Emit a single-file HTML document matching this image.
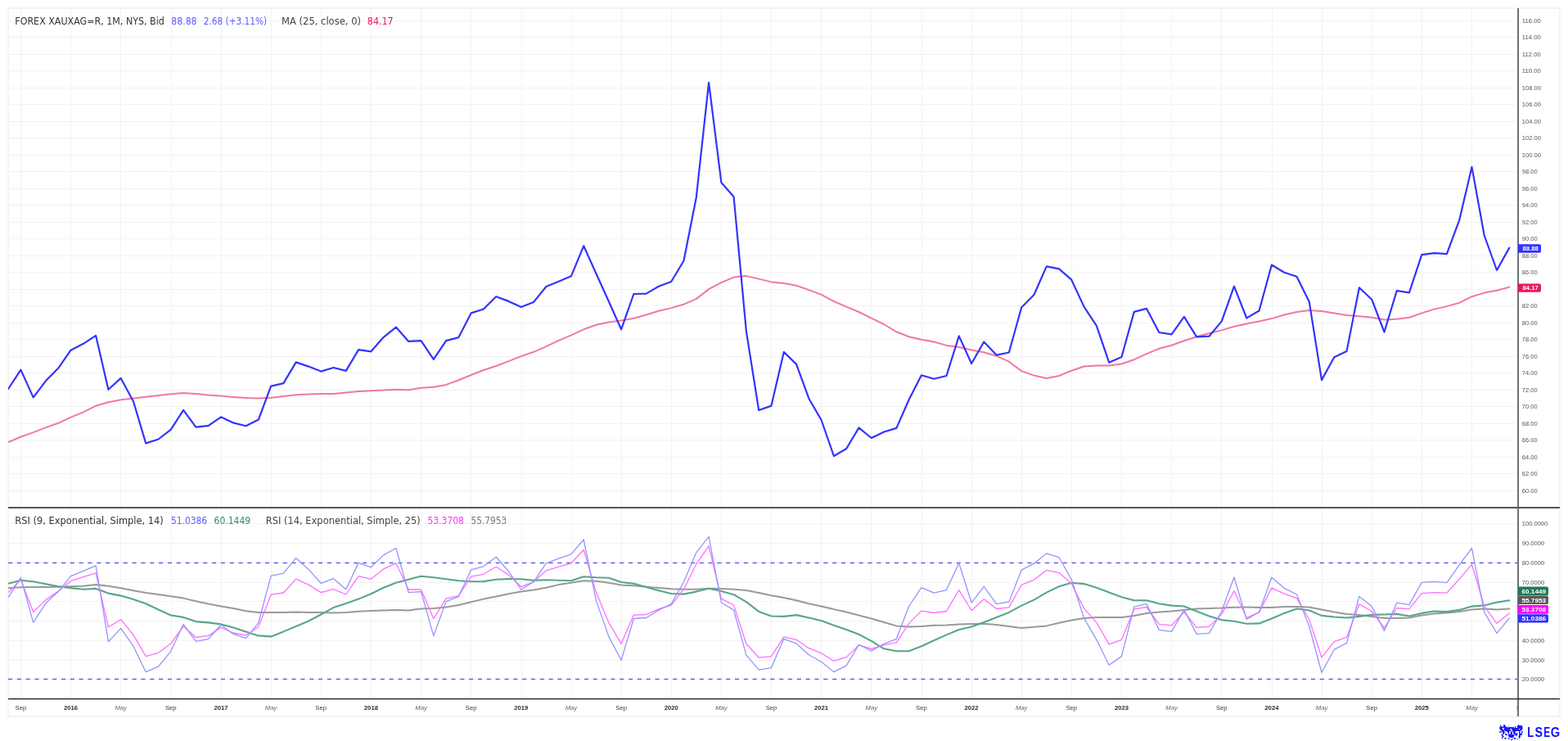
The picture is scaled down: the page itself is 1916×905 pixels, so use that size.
<!DOCTYPE html><html><head><meta charset="utf-8"><title>FOREX XAUXAG=R chart</title><style>html,body{margin:0;padding:0;background:#fff;}body{width:1916px;height:905px;overflow:hidden;}svg{display:block}</style></head><body><svg width="1916" height="905" viewBox="0 0 1916 905"><rect width="1916" height="905" fill="#fff"/><rect x="10" y="10" width="1896" height="865" fill="none" stroke="#f4f4f4" stroke-width="2"/><path d="M25.5 11V853 M86.5 11V853 M147.5 11V853 M209.5 11V853 M270.5 11V853 M331.5 11V853 M392.5 11V853 M453.5 11V853 M514.5 11V853 M575.5 11V853 M637.5 11V853 M698.5 11V853 M759.5 11V853 M820.5 11V853 M881.5 11V853 M942.5 11V853 M1003.5 11V853 M1064.5 11V853 M1126.5 11V853 M1187.5 11V853 M1248.5 11V853 M1309.5 11V853 M1370.5 11V853 M1431.5 11V853 M1492.5 11V853 M1554.5 11V853 M1615.5 11V853 M1676.5 11V853 M1737.5 11V853 M1798.5 11V853 M11 25.5H1854 M11 45.5H1854 M11 66.5H1854 M11 86.5H1854 M11 107.5H1854 M11 127.5H1854 M11 148.5H1854 M11 168.5H1854 M11 189.5H1854 M11 209.5H1854 M11 230.5H1854 M11 250.5H1854 M11 271.5H1854 M11 291.5H1854 M11 312.5H1854 M11 332.5H1854 M11 353.5H1854 M11 373.5H1854 M11 394.5H1854 M11 414.5H1854 M11 435.5H1854 M11 455.5H1854 M11 476.5H1854 M11 496.5H1854 M11 517.5H1854 M11 537.5H1854 M11 558.5H1854 M11 578.5H1854 M11 599.5H1854 M11 639.5H1854 M11 663.5H1854 M11 687.5H1854 M11 711.5H1854 M11 734.5H1854 M11 758.5H1854 M11 782.5H1854 M11 806.5H1854 M11 829.5H1854" stroke="#f2f2f2" stroke-width="1" fill="none" shape-rendering="crispEdges"/><line x1="10" y1="687.5" x2="1854" y2="687.5" stroke="#5c5cff" stroke-width="1.5" stroke-dasharray="5 5.83"/><line x1="10" y1="829.6" x2="1854" y2="829.6" stroke="#5c5cff" stroke-width="1.5" stroke-dasharray="5 5.83"/><defs><clipPath id="cm"><rect x="10" y="10" width="1844.5" height="609"/></clipPath><clipPath id="cr"><rect x="10" y="621" width="1844.5" height="232"/></clipPath></defs><g clip-path="url(#cm)"><polyline points="10.1,540.0 25.4,533.5 40.7,528.1 56.0,522.1 71.3,516.8 86.5,509.6 101.8,503.3 117.1,495.7 132.4,491.3 147.7,488.3 163.0,486.4 178.2,484.8 193.5,483.0 208.8,481.3 224.1,479.9 239.4,481.0 254.7,482.6 270.0,483.6 285.2,484.9 300.5,486.1 315.8,486.6 331.1,485.8 346.4,484.0 361.7,482.2 377.0,481.5 392.2,481.1 407.5,481.1 422.8,479.5 438.1,477.9 453.4,477.2 468.7,476.4 483.9,475.8 499.2,476.2 514.5,473.8 529.8,472.8 545.1,469.9 560.4,464.2 575.7,458.0 590.9,452.0 606.2,447.0 621.5,441.1 636.8,435.1 652.1,429.8 667.4,423.2 682.7,415.8 697.9,409.3 713.2,402.3 728.5,396.8 743.8,393.4 759.1,391.5 774.4,388.8 789.6,384.5 804.9,379.7 820.2,376.1 835.5,371.7 850.8,365.1 866.1,353.1 881.4,345.1 896.6,338.6 911.9,337.1 927.2,340.6 942.5,344.4 957.8,346.0 973.1,348.7 988.4,354.1 1003.6,359.9 1018.9,368.0 1034.2,374.6 1049.5,381.0 1064.8,388.7 1080.1,396.0 1095.4,405.3 1110.6,411.3 1125.9,414.8 1141.2,417.5 1156.5,421.9 1171.8,424.1 1187.1,427.4 1202.3,430.3 1217.6,434.7 1232.9,441.7 1248.2,453.1 1263.5,458.6 1278.8,462.0 1294.1,459.0 1309.3,452.7 1324.6,447.5 1339.9,446.5 1355.2,446.5 1370.5,444.5 1385.8,439.2 1401.1,432.2 1416.3,425.8 1431.6,421.7 1446.9,416.3 1462.2,411.3 1477.5,407.0 1492.8,403.4 1508.0,398.8 1523.3,395.4 1538.6,392.4 1553.9,389.1 1569.2,384.5 1584.5,381.1 1599.8,378.9 1615.0,380.1 1630.3,382.4 1645.6,384.9 1660.9,386.2 1676.2,387.8 1691.5,390.4 1706.8,389.7 1722.0,387.8 1737.3,382.4 1752.6,377.6 1767.9,374.1 1783.2,369.9 1798.5,362.2 1813.7,357.6 1829.0,354.8 1844.3,350.6" fill="none" stroke="#f277a2" stroke-width="2" stroke-linejoin="round" stroke-linecap="round" opacity="1"/><polyline points="10.1,475.0 25.4,451.6 40.7,485.4 56.0,465.1 71.3,449.6 86.5,427.7 101.8,419.8 117.1,409.8 132.4,475.8 147.7,461.9 163.0,490.3 178.2,541.4 193.5,536.5 208.8,524.7 224.1,500.8 239.4,521.7 254.7,519.9 270.0,509.3 285.2,516.4 300.5,520.2 315.8,512.6 331.1,471.6 346.4,468.1 361.7,442.4 377.0,447.6 392.2,453.6 407.5,449.0 422.8,452.9 438.1,427.1 453.4,429.3 468.7,411.8 483.9,399.6 499.2,416.9 514.5,416.1 529.8,438.8 545.1,416.1 560.4,412.1 575.7,382.4 590.9,377.5 606.2,362.2 621.5,367.9 636.8,375.1 652.1,368.9 667.4,350.0 682.7,343.7 697.9,337.3 713.2,300.3 728.5,334.3 743.8,368.0 759.1,402.3 774.4,359.0 789.6,358.6 804.9,349.8 820.2,344.0 835.5,318.5 850.8,241.2 866.1,100.9 881.4,223.0 896.6,240.3 911.9,404.7 927.2,501.0 942.5,495.6 957.8,429.9 973.1,444.9 988.4,486.7 1003.6,513.0 1018.9,557.0 1034.2,548.0 1049.5,522.4 1064.8,535.0 1080.1,527.5 1095.4,522.9 1110.6,488.2 1125.9,458.3 1141.2,462.8 1156.5,459.0 1171.8,410.4 1187.1,444.0 1202.3,417.5 1217.6,433.6 1232.9,430.5 1248.2,375.5 1263.5,360.0 1278.8,325.4 1294.1,328.4 1309.3,341.7 1324.6,374.6 1339.9,397.8 1355.2,442.7 1370.5,436.0 1385.8,380.9 1401.1,376.9 1416.3,406.0 1431.6,408.3 1446.9,386.9 1462.2,411.3 1477.5,410.7 1492.8,392.4 1508.0,349.7 1523.3,388.5 1538.6,379.5 1553.9,323.5 1569.2,332.8 1584.5,337.8 1599.8,368.6 1615.0,464.1 1630.3,436.2 1645.6,428.9 1660.9,351.3 1676.2,365.7 1691.5,405.5 1706.8,355.1 1722.0,357.4 1737.3,311.2 1752.6,309.2 1767.9,310.2 1783.2,268.9 1798.5,203.9 1813.7,287.5 1829.0,330.0 1844.3,302.6" fill="none" stroke="#3333ff" stroke-width="2.2" stroke-linejoin="round" stroke-linecap="round" opacity="1"/></g><g clip-path="url(#cr)"><polyline points="10.1,718.3 25.4,717.3 40.7,717.1 56.0,716.9 71.3,716.7 86.5,716.3 101.8,715.7 117.1,714.1 132.4,715.7 147.7,718.3 163.0,721.3 178.2,724.0 193.5,726.0 208.8,728.2 224.1,730.6 239.4,734.2 254.7,737.6 270.0,740.5 285.2,743.1 300.5,746.2 315.8,748.1 331.1,748.1 346.4,747.9 361.7,747.5 377.0,747.9 392.2,748.1 407.5,748.5 422.8,747.9 438.1,746.7 453.4,746.1 468.7,745.5 483.9,744.9 499.2,745.5 514.5,743.5 529.8,743.1 545.1,741.5 560.4,739.0 575.7,735.2 590.9,731.6 606.2,728.6 621.5,725.2 636.8,722.6 652.1,720.6 667.4,717.7 682.7,714.1 697.9,711.7 713.2,709.3 728.5,709.7 743.8,711.7 759.1,714.5 774.4,715.3 789.6,716.7 804.9,718.1 820.2,719.3 835.5,719.7 850.8,719.7 866.1,718.7 881.4,719.1 896.6,719.7 911.9,721.0 927.2,724.0 942.5,727.2 957.8,730.0 973.1,733.2 988.4,737.2 1003.6,740.5 1018.9,744.1 1034.2,747.5 1049.5,751.5 1064.8,755.5 1080.1,760.0 1095.4,764.4 1110.6,765.4 1125.9,765.0 1141.2,763.8 1156.5,763.4 1171.8,762.4 1187.1,762.0 1202.3,761.8 1217.6,763.0 1232.9,765.0 1248.2,767.0 1263.5,765.8 1278.8,764.4 1294.1,760.8 1309.3,757.5 1324.6,755.1 1339.9,754.1 1355.2,754.1 1370.5,753.9 1385.8,751.9 1401.1,748.9 1416.3,747.5 1431.6,746.5 1446.9,744.9 1462.2,743.5 1477.5,742.9 1492.8,742.5 1508.0,741.7 1523.3,741.5 1538.6,741.9 1553.9,741.9 1569.2,741.1 1584.5,740.9 1599.8,741.5 1615.0,744.5 1630.3,747.5 1645.6,750.1 1660.9,751.1 1676.2,753.1 1691.5,755.1 1706.8,755.1 1722.0,754.5 1737.3,751.5 1752.6,749.5 1767.9,748.5 1783.2,747.1 1798.5,744.5 1813.7,743.6 1829.0,744.4 1844.3,743.6" fill="none" stroke="#999999" stroke-width="2.0" stroke-linejoin="round" stroke-linecap="round" opacity="1"/><polyline points="10.1,712.7 25.4,708.7 40.7,710.3 56.0,713.3 71.3,716.3 86.5,718.1 101.8,719.7 117.1,718.9 132.4,724.6 147.7,727.6 163.0,732.0 178.2,737.2 193.5,744.5 208.8,751.5 224.1,753.9 239.4,759.1 254.7,760.4 270.0,762.4 285.2,766.4 300.5,771.5 315.8,776.4 331.1,777.4 346.4,771.4 361.7,765.0 377.0,758.5 392.2,750.5 407.5,742.1 422.8,737.0 438.1,731.6 453.4,725.2 468.7,717.7 483.9,711.7 499.2,707.7 514.5,703.7 529.8,705.3 545.1,707.3 560.4,709.3 575.7,710.3 590.9,710.1 606.2,707.7 621.5,707.1 636.8,707.3 652.1,708.9 667.4,708.3 682.7,708.7 697.9,709.3 713.2,704.3 728.5,705.3 743.8,705.7 759.1,711.0 774.4,712.7 789.6,717.1 804.9,721.2 820.2,725.0 835.5,725.6 850.8,722.6 866.1,718.7 881.4,722.0 896.6,726.2 911.9,735.2 927.2,746.9 942.5,752.5 957.8,752.9 973.1,751.1 988.4,754.5 1003.6,758.1 1018.9,763.8 1034.2,769.0 1049.5,774.8 1064.8,782.9 1080.1,792.3 1095.4,795.3 1110.6,795.3 1125.9,789.3 1141.2,782.3 1156.5,775.4 1171.8,769.0 1187.1,765.4 1202.3,760.0 1217.6,753.9 1232.9,747.9 1248.2,739.6 1263.5,732.6 1278.8,723.6 1294.1,716.3 1309.3,711.7 1324.6,713.1 1339.9,717.7 1355.2,723.6 1370.5,729.2 1385.8,733.2 1401.1,733.2 1416.3,737.2 1431.6,739.6 1446.9,740.5 1462.2,746.5 1477.5,752.5 1492.8,757.1 1508.0,758.7 1523.3,761.8 1538.6,761.4 1553.9,755.5 1569.2,748.9 1584.5,743.5 1599.8,745.5 1615.0,751.9 1630.3,753.5 1645.6,754.5 1660.9,752.9 1676.2,750.9 1691.5,750.5 1706.8,749.9 1722.0,752.5 1737.3,748.9 1752.6,746.5 1767.9,747.1 1783.2,744.9 1798.5,740.6 1813.7,739.4 1829.0,735.6 1844.3,733.2" fill="none" stroke="#58a58c" stroke-width="2.1" stroke-linejoin="round" stroke-linecap="round" opacity="1"/><polyline points="10.1,723.6 25.4,707.7 40.7,747.5 56.0,732.6 71.3,722.0 86.5,709.7 101.8,704.7 117.1,699.8 132.4,766.0 147.7,756.5 163.0,775.4 178.2,801.6 193.5,797.3 208.8,785.9 224.1,765.0 239.4,778.4 254.7,776.4 270.0,766.4 285.2,773.0 300.5,775.8 315.8,765.8 331.1,726.2 346.4,724.0 361.7,707.1 377.0,714.1 392.2,723.6 407.5,719.7 422.8,726.0 438.1,703.7 453.4,707.3 468.7,694.8 483.9,687.8 499.2,720.0 514.5,720.0 529.8,755.5 545.1,731.2 560.4,727.6 575.7,704.1 590.9,701.3 606.2,692.2 621.5,702.1 636.8,716.7 652.1,710.7 667.4,696.8 682.7,692.2 697.9,687.8 713.2,671.5 728.5,723.6 743.8,760.4 759.1,786.1 774.4,751.1 789.6,750.5 804.9,743.9 820.2,739.2 835.5,719.7 850.8,688.8 866.1,666.9 881.4,731.2 896.6,739.0 911.9,786.3 927.2,803.2 942.5,801.6 957.8,777.8 973.1,781.3 988.4,791.7 1003.6,797.7 1018.9,807.2 1034.2,802.6 1049.5,787.9 1064.8,792.3 1080.1,787.9 1095.4,784.7 1110.6,761.4 1125.9,746.1 1141.2,748.5 1156.5,746.5 1171.8,720.6 1187.1,745.5 1202.3,731.8 1217.6,743.5 1232.9,741.9 1248.2,714.3 1263.5,708.1 1278.8,696.4 1294.1,699.4 1309.3,712.7 1324.6,743.1 1339.9,760.4 1355.2,786.9 1370.5,781.3 1385.8,743.9 1401.1,741.5 1416.3,762.4 1431.6,763.8 1446.9,747.5 1462.2,766.4 1477.5,765.4 1492.8,750.1 1508.0,721.6 1523.3,754.5 1538.6,747.9 1553.9,718.1 1569.2,725.2 1584.5,730.6 1599.8,756.5 1615.0,802.8 1630.3,783.7 1645.6,778.4 1660.9,737.8 1676.2,746.5 1691.5,767.0 1706.8,742.5 1722.0,743.9 1737.3,724.6 1752.6,723.6 1767.9,724.2 1783.2,707.3 1798.5,689.2 1813.7,740.3 1829.0,761.3 1844.3,749.1" fill="none" stroke="#ff6eff" stroke-width="1.3" stroke-linejoin="round" stroke-linecap="round" opacity="1"/><polyline points="10.1,729.6 25.4,705.3 40.7,760.4 56.0,736.6 71.3,722.6 86.5,703.7 101.8,697.4 117.1,690.8 132.4,783.7 147.7,767.4 163.0,789.3 178.2,820.7 193.5,814.2 208.8,795.3 224.1,762.4 239.4,783.3 254.7,780.3 270.0,763.0 285.2,774.4 300.5,779.4 315.8,761.0 331.1,703.3 346.4,700.1 361.7,681.4 377.0,695.4 392.2,712.3 407.5,706.7 422.8,719.7 438.1,687.4 453.4,692.8 468.7,677.9 483.9,669.5 499.2,723.6 514.5,722.6 529.8,776.4 545.1,734.6 560.4,728.6 575.7,695.8 590.9,691.8 606.2,680.2 621.5,697.8 636.8,720.0 652.1,710.7 667.4,687.8 682.7,682.2 697.9,676.9 713.2,659.0 728.5,733.6 743.8,777.4 759.1,806.2 774.4,755.5 789.6,754.5 804.9,745.1 820.2,737.6 835.5,710.7 850.8,674.9 866.1,655.4 881.4,736.0 896.6,745.1 911.9,800.2 927.2,818.2 942.5,815.6 957.8,780.3 973.1,785.9 988.4,799.7 1003.6,808.2 1018.9,820.7 1034.2,812.8 1049.5,787.3 1064.8,794.9 1080.1,786.3 1095.4,780.3 1110.6,740.5 1125.9,717.7 1141.2,724.2 1156.5,720.6 1171.8,687.8 1187.1,736.2 1202.3,716.3 1217.6,737.6 1232.9,735.2 1248.2,696.2 1263.5,688.2 1278.8,675.9 1294.1,680.8 1309.3,707.7 1324.6,754.9 1339.9,781.3 1355.2,812.2 1370.5,801.6 1385.8,741.1 1401.1,737.6 1416.3,769.4 1431.6,771.4 1446.9,744.9 1462.2,774.4 1477.5,773.4 1492.8,746.5 1508.0,705.0 1523.3,756.5 1538.6,747.5 1553.9,705.3 1569.2,718.3 1584.5,726.0 1599.8,765.0 1615.0,821.5 1630.3,793.3 1645.6,785.3 1660.9,728.4 1676.2,740.5 1691.5,770.4 1706.8,736.2 1722.0,738.6 1737.3,711.3 1752.6,710.3 1767.9,711.7 1783.2,689.8 1798.5,669.5 1813.7,747.7 1829.0,773.4 1844.3,755.2" fill="none" stroke="#9494ff" stroke-width="1.3" stroke-linejoin="round" stroke-linecap="round" opacity="1"/></g><rect x="10" y="619" width="1896" height="2" fill="#555"/><rect x="1854.2" y="10" width="1.7" height="865" fill="#5a5a5a"/><rect x="10" y="852.9" width="1896" height="1.4" fill="#222"/><g font-family="'Liberation Sans',sans-serif" font-size="8.1" fill="#555"><text x="1859.8" y="28.0" textLength="23.1" lengthAdjust="spacingAndGlyphs">116.00</text><text x="1859.8" y="48.0" textLength="23.1" lengthAdjust="spacingAndGlyphs">114.00</text><text x="1859.8" y="69.0" textLength="23.1" lengthAdjust="spacingAndGlyphs">112.00</text><text x="1859.8" y="89.0" textLength="23.1" lengthAdjust="spacingAndGlyphs">110.00</text><text x="1859.8" y="110.0" textLength="23.1" lengthAdjust="spacingAndGlyphs">108.00</text><text x="1859.8" y="130.0" textLength="23.1" lengthAdjust="spacingAndGlyphs">106.00</text><text x="1859.8" y="151.0" textLength="23.1" lengthAdjust="spacingAndGlyphs">104.00</text><text x="1859.8" y="171.0" textLength="23.1" lengthAdjust="spacingAndGlyphs">102.00</text><text x="1859.8" y="192.0" textLength="23.1" lengthAdjust="spacingAndGlyphs">100.00</text><text x="1859.8" y="212.0" textLength="18.8" lengthAdjust="spacingAndGlyphs">98.00</text><text x="1859.8" y="233.0" textLength="18.8" lengthAdjust="spacingAndGlyphs">96.00</text><text x="1859.8" y="253.0" textLength="18.8" lengthAdjust="spacingAndGlyphs">94.00</text><text x="1859.8" y="274.0" textLength="18.8" lengthAdjust="spacingAndGlyphs">92.00</text><text x="1859.8" y="294.0" textLength="18.8" lengthAdjust="spacingAndGlyphs">90.00</text><text x="1859.8" y="315.0" textLength="18.8" lengthAdjust="spacingAndGlyphs">88.00</text><text x="1859.8" y="335.0" textLength="18.8" lengthAdjust="spacingAndGlyphs">86.00</text><text x="1859.8" y="356.0" textLength="18.8" lengthAdjust="spacingAndGlyphs">84.00</text><text x="1859.8" y="376.0" textLength="18.8" lengthAdjust="spacingAndGlyphs">82.00</text><text x="1859.8" y="397.0" textLength="18.8" lengthAdjust="spacingAndGlyphs">80.00</text><text x="1859.8" y="417.0" textLength="18.8" lengthAdjust="spacingAndGlyphs">78.00</text><text x="1859.8" y="438.0" textLength="18.8" lengthAdjust="spacingAndGlyphs">76.00</text><text x="1859.8" y="458.0" textLength="18.8" lengthAdjust="spacingAndGlyphs">74.00</text><text x="1859.8" y="479.0" textLength="18.8" lengthAdjust="spacingAndGlyphs">72.00</text><text x="1859.8" y="499.0" textLength="18.8" lengthAdjust="spacingAndGlyphs">70.00</text><text x="1859.8" y="520.0" textLength="18.8" lengthAdjust="spacingAndGlyphs">68.00</text><text x="1859.8" y="540.0" textLength="18.8" lengthAdjust="spacingAndGlyphs">66.00</text><text x="1859.8" y="561.0" textLength="18.8" lengthAdjust="spacingAndGlyphs">64.00</text><text x="1859.8" y="581.0" textLength="18.8" lengthAdjust="spacingAndGlyphs">62.00</text><text x="1859.8" y="602.0" textLength="18.8" lengthAdjust="spacingAndGlyphs">60.00</text></g><g font-family="'Liberation Sans',sans-serif" font-size="8.1" fill="#555"><text x="1859.8" y="642.0" textLength="31.7" lengthAdjust="spacingAndGlyphs">100.0000</text><text x="1859.8" y="666.0" textLength="27.4" lengthAdjust="spacingAndGlyphs">90.0000</text><text x="1859.8" y="690.0" textLength="27.4" lengthAdjust="spacingAndGlyphs">80.0000</text><text x="1859.8" y="714.0" textLength="27.4" lengthAdjust="spacingAndGlyphs">70.0000</text><text x="1859.8" y="785.0" textLength="27.4" lengthAdjust="spacingAndGlyphs">40.0000</text><text x="1859.8" y="809.0" textLength="27.4" lengthAdjust="spacingAndGlyphs">30.0000</text><text x="1859.8" y="832.0" textLength="27.4" lengthAdjust="spacingAndGlyphs">20.0000</text></g><path d="M1855 298.2H1881a2 2 0 0 1 2 2V306.7a2 2 0 0 1 -2 2H1855Z" fill="#3333ff"/><text x="1860.4" y="306.2" textLength="19.4" lengthAdjust="spacingAndGlyphs" font-family="'Liberation Sans',sans-serif" font-weight="bold" font-size="7.8" fill="#fff">88.88</text><path d="M1855 346.4H1881a2 2 0 0 1 2 2V354.8a2 2 0 0 1 -2 2H1855Z" fill="#e9175e"/><text x="1860.4" y="354.4" textLength="19.4" lengthAdjust="spacingAndGlyphs" font-family="'Liberation Sans',sans-serif" font-weight="bold" font-size="7.8" fill="#fff">84.17</text><path d="M1855 716.6H1890a2 2 0 0 1 2 2V725.2a2 2 0 0 1 -2 2H1855Z" fill="#1f7a58"/><text x="1859.5" y="724.7" textLength="29.5" lengthAdjust="spacingAndGlyphs" font-family="'Liberation Sans',sans-serif" font-weight="bold" font-size="7.8" fill="#fff">60.1449</text><path d="M1855 727.6H1890a2 2 0 0 1 2 2V736.0a2 2 0 0 1 -2 2H1855Z" fill="#5a5a5a"/><text x="1859.5" y="735.6" textLength="29.5" lengthAdjust="spacingAndGlyphs" font-family="'Liberation Sans',sans-serif" font-weight="bold" font-size="7.8" fill="#fff">55.7953</text><path d="M1855 739.1H1890a2 2 0 0 1 2 2V747.7a2 2 0 0 1 -2 2H1855Z" fill="#ff00ff"/><text x="1859.5" y="747.2" textLength="29.5" lengthAdjust="spacingAndGlyphs" font-family="'Liberation Sans',sans-serif" font-weight="bold" font-size="7.8" fill="#fff">53.3708</text><path d="M1855 750.2H1890a2 2 0 0 1 2 2V758.6a2 2 0 0 1 -2 2H1855Z" fill="#3333ff"/><text x="1859.5" y="758.2" textLength="29.5" lengthAdjust="spacingAndGlyphs" font-family="'Liberation Sans',sans-serif" font-weight="bold" font-size="7.8" fill="#fff">51.0386</text><defs><clipPath id="cx"><rect x="10" y="855" width="1844.3" height="19"/></clipPath></defs><g clip-path="url(#cx)" font-family="'Liberation Sans',sans-serif" font-size="7.7" text-anchor="middle"><text x="25.4" y="867" fill="#383838">Sep</text><text x="86.5" y="867" font-weight="bold" fill="#2a2a2a">2016</text><text x="147.7" y="867" font-style="italic" fill="#666">May</text><text x="208.8" y="867" fill="#383838">Sep</text><text x="270.0" y="867" font-weight="bold" fill="#2a2a2a">2017</text><text x="331.1" y="867" font-style="italic" fill="#666">May</text><text x="392.2" y="867" fill="#383838">Sep</text><text x="453.4" y="867" font-weight="bold" fill="#2a2a2a">2018</text><text x="514.5" y="867" font-style="italic" fill="#666">May</text><text x="575.7" y="867" fill="#383838">Sep</text><text x="636.8" y="867" font-weight="bold" fill="#2a2a2a">2019</text><text x="697.9" y="867" font-style="italic" fill="#666">May</text><text x="759.1" y="867" fill="#383838">Sep</text><text x="820.2" y="867" font-weight="bold" fill="#2a2a2a">2020</text><text x="881.4" y="867" font-style="italic" fill="#666">May</text><text x="942.5" y="867" fill="#383838">Sep</text><text x="1003.6" y="867" font-weight="bold" fill="#2a2a2a">2021</text><text x="1064.8" y="867" font-style="italic" fill="#666">May</text><text x="1125.9" y="867" fill="#383838">Sep</text><text x="1187.1" y="867" font-weight="bold" fill="#2a2a2a">2022</text><text x="1248.2" y="867" font-style="italic" fill="#666">May</text><text x="1309.3" y="867" fill="#383838">Sep</text><text x="1370.5" y="867" font-weight="bold" fill="#2a2a2a">2023</text><text x="1431.6" y="867" font-style="italic" fill="#666">May</text><text x="1492.8" y="867" fill="#383838">Sep</text><text x="1553.9" y="867" font-weight="bold" fill="#2a2a2a">2024</text><text x="1615.0" y="867" font-style="italic" fill="#666">May</text><text x="1676.2" y="867" fill="#383838">Sep</text><text x="1737.3" y="867" font-weight="bold" fill="#2a2a2a">2025</text><text x="1798.5" y="867" font-style="italic" fill="#666">May</text><text x="1859.6" y="867" fill="#383838">Sep</text></g><g font-family="'DejaVu Sans Condensed','Liberation Sans',sans-serif" font-size="12.4"><text x="18.3" y="29.8" textLength="182.5" lengthAdjust="spacingAndGlyphs" fill="#333">FOREX XAUXAG=R, 1M, NYS, Bid</text><text x="209.3" y="29.8" textLength="31.2" lengthAdjust="spacingAndGlyphs" fill="#5c5cff">88.88</text><text x="248.7" y="29.8" textLength="77.5" lengthAdjust="spacingAndGlyphs" fill="#5c5cff">2.68 (+3.11%)</text><text x="344" y="29.8" textLength="97" lengthAdjust="spacingAndGlyphs" fill="#444">MA (25, close, 0)</text><text x="448.8" y="29.8" textLength="31.9" lengthAdjust="spacingAndGlyphs" fill="#e9175e">84.17</text><text x="18.3" y="640.3" textLength="181.5" lengthAdjust="spacingAndGlyphs" fill="#333">RSI (9, Exponential, Simple, 14)</text><text x="208.9" y="640.3" textLength="44.3" lengthAdjust="spacingAndGlyphs" fill="#5c5cff">51.0386</text><text x="261.5" y="640.3" textLength="44.7" lengthAdjust="spacingAndGlyphs" fill="#2e8b6a">60.1449</text><text x="324.8" y="640.3" textLength="189" lengthAdjust="spacingAndGlyphs" fill="#444">RSI (14, Exponential, Simple, 25)</text><text x="522.4" y="640.3" textLength="44.6" lengthAdjust="spacingAndGlyphs" fill="#ff33ff">53.3708</text><text x="575.4" y="640.3" textLength="44" lengthAdjust="spacingAndGlyphs" fill="#777">55.7953</text></g><text transform="translate(1866.28 899.7) scale(0.824 1)" x="0" y="0" font-family="'Liberation Sans',sans-serif" font-weight="bold" font-size="16" fill="#0d0dff">L</text><text transform="translate(1875.55 899.7) scale(0.895 1)" x="0" y="0" font-family="'Liberation Sans',sans-serif" font-weight="bold" font-size="16" fill="#0d0dff">S</text><text transform="translate(1886.34 899.7) scale(0.756 1)" x="0" y="0" font-family="'Liberation Sans',sans-serif" font-weight="bold" font-size="16" fill="#0d0dff">E</text><text transform="translate(1894.81 899.7) scale(0.921 1)" x="0" y="0" font-family="'Liberation Sans',sans-serif" font-weight="bold" font-size="16" fill="#0d0dff">G</text><path d="M1833.1 885h0.7v1h-0.7zM1837.4 885h1.5v1h-1.5zM1854.9 885h1.3v1h-1.3zM1833.1 886h1.0v1h-1.0zM1836.6 886h3.1v1h-3.1zM1854.2 886h5.6v1h-5.6zM1833.1 887h2.5v1h-2.5zM1836.9 887h3.3v1h-3.3zM1842.0 887h1.0v1h-1.0zM1850.9 887h1.0v1h-1.0zM1853.4 887h7.1v1h-7.1zM1832.3 888h9.9v1h-9.9zM1843.2 888h6.9v1h-6.9zM1851.1 888h1.3v1h-1.3zM1854.2 888h6.3v1h-6.3zM1832.1 889h4.0v1h-4.0zM1837.9 889h22.6v1h-22.6zM1832.8 890h3.1v1h-3.1zM1837.9 890h7.4v1h-7.4zM1847.3 890h8.6v1h-8.6zM1857.2 890h3.1v1h-3.1zM1833.3 891h13.0v1h-13.0zM1847.3 891h12.5v1h-12.5zM1834.6 892h3.6v1h-3.6zM1839.0 892h6.8v1h-6.8zM1848.1 892h10.4v1h-10.4zM1832.3 893h2.3v1h-2.3zM1835.6 893h3.1v1h-3.1zM1841.0 893h3.3v1h-3.3zM1845.8 893h1.5v1h-1.5zM1848.3 893h3.6v1h-3.6zM1856.0 893h1.2v1h-1.2zM1859.2 893h1.6v1h-1.6zM1832.1 894h1.0v1h-1.0zM1833.8 894h1.1v1h-1.1zM1836.1 894h2.6v1h-2.6zM1842.2 894h2.1v1h-2.1zM1845.8 894h2.0v1h-2.0zM1849.1 894h2.5v1h-2.5zM1856.0 894h1.7v1h-1.7zM1859.0 894h1.5v1h-1.5zM1836.1 895h2.1v1h-2.1zM1839.4 895h0.8v1h-0.8zM1842.5 895h1.3v1h-1.3zM1845.8 895h2.5v1h-2.5zM1849.3 895h3.1v1h-3.1zM1853.4 895h1.5v1h-1.5zM1856.5 895h1.5v1h-1.5zM1859.2 895h1.0v1h-1.0zM1836.1 896h1.6v1h-1.6zM1839.2 896h1.5v1h-1.5zM1843.0 896h1.3v1h-1.3zM1845.3 896h2.5v1h-2.5zM1849.8 896h4.1v1h-4.1zM1856.0 896h4.0v1h-4.0zM1834.4 897h2.0v1h-2.0zM1839.2 897h2.8v1h-2.8zM1843.2 897h7.2v1h-7.2zM1851.4 897h3.0v1h-3.0zM1856.2 897h3.6v1h-3.6zM1835.1 898h1.8v1h-1.8zM1843.0 898h7.4v1h-7.4zM1852.1 898h1.3v1h-1.3zM1856.0 898h2.0v1h-2.0zM1835.6 899h2.1v1h-2.1zM1843.5 899h6.3v1h-6.3zM1855.4 899h2.6v1h-2.6zM1835.1 900h1.5v1h-1.5zM1844.3 900h5.0v1h-5.0zM1856.0 900h1.5v1h-1.5zM1835.1 901h1.3v1h-1.3zM1838.2 901h2.5v1h-2.5zM1843.0 901h1.0v1h-1.0zM1849.6 901h2.5v1h-2.5zM1856.0 901h1.1v1h-1.1zM1838.7 902h1.2v1h-1.2zM1843.0 902h1.3v1h-1.3zM1847.8 902h1.0v1h-1.0zM1850.4 902h1.5v1h-1.5zM1853.9 902h1.0v1h-1.0zM1846.0 903h2.0v1h-2.0z" fill="#1a1aff"/></svg></body></html>
